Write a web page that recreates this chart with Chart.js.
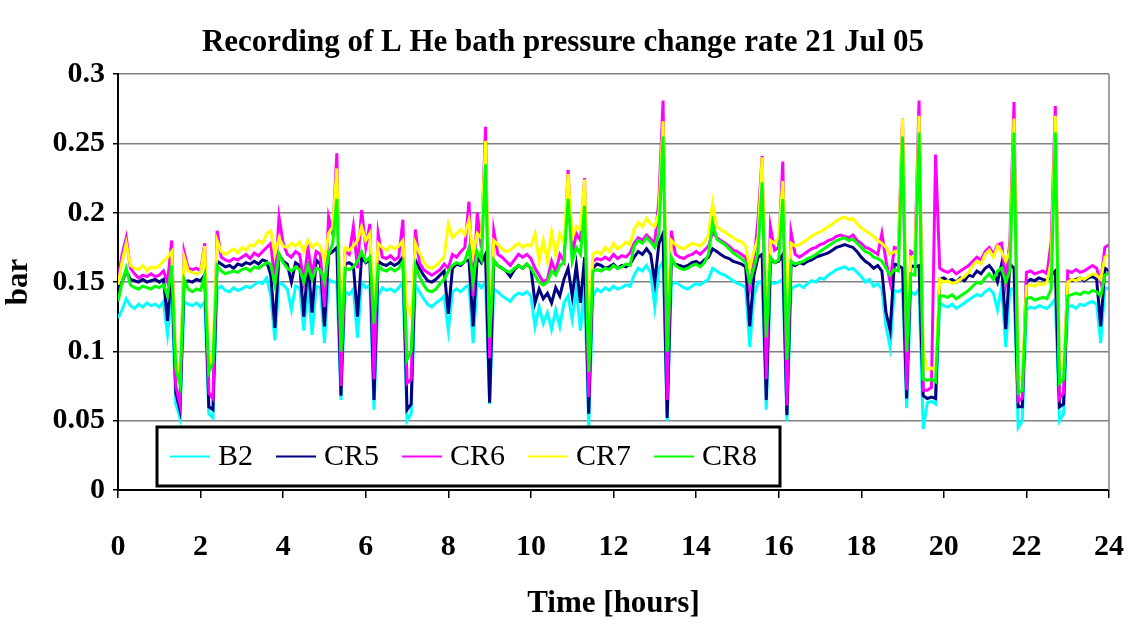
<!DOCTYPE html>
<html>
<head>
<meta charset="utf-8">
<script src="https://cdn.jsdelivr.net/npm/chart.js@4.4.1/dist/chart.umd.min.js"></script>
<style>
  html, body { margin: 0; padding: 0; background: #fff; }
  #wrap { width: 1139px; height: 633px; position: relative; }
</style>
</head>
<body>
<div id="wrap"><canvas id="chart"></canvas></div>
<script>
// Recording of L He bath pressure change rate, 21 Jul 05
// values, in mbar, one row per hour (0.0 .. 0.9 h), last value at 24 h
const SAMPLE_STEP_H = 0.1;

const b2 = [
  124,130,138,133,131,134,132,135,133,134,
  132,136,112,140,62,52,136,134,133,135,
  132,136,55,52,145,147,144,143,146,144,
  145,147,146,148,150,149,153,140,108,150,
  148,145,130,147,146,115,148,112,147,146,
  106,152,150,150,65,143,141,145,110,150,
  146,148,58,140,146,144,145,143,146,150,
  50,55,148,143,138,134,132,135,137,140,
  115,143,145,143,146,148,106,150,146,150,
  62,145,143,140,138,136,140,142,141,143,
  140,118,132,120,128,116,130,118,135,140,
  123,145,115,148,45,140,145,143,146,144,
  147,145,146,148,147,155,160,158,162,157,
  132,160,165,50,148,150,148,146,145,147,
  149,148,150,152,160,158,156,155,153,151,
  149,148,146,103,140,150,150,58,150,149,
  150,152,50,145,147,148,146,149,151,150,
  153,152,155,157,159,160,161,159,160,157,
  154,150,152,147,149,145,118,103,144,143,
  145,59,143,141,145,44,63,64,62,135,
  133,132,134,131,133,135,137,139,141,140,
  143,145,142,130,147,103,145,145,45,50,
  130,132,131,133,132,131,134,138,50,55,
  132,133,131,134,133,135,136,134,106,146,
  145
];

const cr5 = [
  145,150,158,152,151,150,152,150,151,152,
  150,152,122,160,70,58,150,151,150,152,
  151,155,60,58,165,163,161,162,160,163,
  162,164,163,165,163,166,165,155,117,170,
  165,163,150,164,162,125,165,128,166,163,
  118,170,172,175,68,163,164,162,125,168,
  164,166,65,165,163,162,164,162,164,168,
  58,62,166,160,155,151,150,152,155,158,
  127,160,163,162,165,166,118,168,164,170,
  63,165,162,160,158,154,159,162,160,163,
  160,135,145,138,142,135,146,140,152,160,
  140,162,135,168,55,160,163,162,160,161,
  163,160,162,161,163,168,172,170,174,170,
  150,178,185,52,165,163,162,161,162,164,
  165,163,166,168,174,172,170,168,167,165,
  164,163,161,118,155,168,170,65,166,164,
  165,170,54,163,162,164,163,165,166,168,
  169,170,171,173,175,176,177,176,175,172,
  168,165,163,160,162,158,128,115,163,162,
  160,66,162,161,162,68,66,67,66,152,
  153,151,152,150,153,151,155,154,158,156,
  160,162,158,150,163,116,163,160,60,60,
  150,152,151,153,152,151,155,158,60,62,
  152,151,152,153,151,153,154,152,118,160,
  158
];

const cr6 = [
  152,170,182,160,156,153,155,154,156,154,
  155,158,150,180,75,62,172,160,159,160,
  158,178,70,66,187,168,166,165,167,166,
  168,170,167,171,169,172,175,178,150,197,
  178,170,168,172,170,150,175,155,172,170,
  132,197,185,243,75,172,170,190,160,202,
  175,192,80,185,168,167,169,166,168,195,
  77,80,188,164,159,157,155,157,159,163,
  160,170,168,172,175,208,140,200,175,262,
  95,187,170,168,165,162,166,170,168,170,
  167,160,155,150,152,165,157,170,165,231,
  170,185,180,225,67,165,167,166,168,166,
  170,167,169,168,171,178,182,180,184,181,
  178,210,281,65,187,170,168,167,169,170,
  172,170,173,176,186,182,180,178,176,173,
  172,170,168,146,165,195,241,80,190,173,
  175,237,61,186,170,168,170,172,174,175,
  177,178,180,181,183,184,183,182,184,180,
  178,175,174,172,170,185,165,150,175,174,
  268,72,172,170,281,72,72,74,242,160,
  158,157,159,156,158,160,162,165,168,166,
  172,175,170,177,178,150,180,280,64,66,
  157,158,156,157,158,156,179,277,66,70,
  158,157,159,157,158,160,162,160,150,175,
  177
];

const cr7 = [
  148,165,178,162,160,159,162,158,161,160,
  162,165,168,172,95,82,168,158,157,156,
  157,176,90,100,180,172,170,172,174,171,
  175,173,177,176,180,178,185,187,170,182,
  176,175,178,176,179,172,180,175,178,176,
  165,185,190,232,110,175,173,176,180,190,
  180,185,130,178,175,173,176,174,176,180,
  132,125,178,171,165,161,160,162,165,168,
  192,182,185,188,184,195,170,185,182,252,
  120,180,177,174,172,173,176,178,175,177,
  176,185,165,180,165,186,170,185,178,228,
  182,190,188,224,106,170,172,170,175,172,
  178,174,176,179,177,188,193,190,196,192,
  190,200,266,115,180,177,175,174,176,178,
  177,176,179,184,207,190,188,186,184,182,
  180,179,176,160,172,182,240,120,180,178,
  182,223,127,178,176,177,179,181,183,185,
  186,188,190,192,194,196,197,195,196,192,
  189,187,185,183,180,178,175,170,172,171,
  268,110,168,167,270,100,87,88,86,152,
  150,151,149,150,152,154,157,162,165,163,
  170,173,168,176,172,165,172,268,80,82,
  147,148,147,149,148,150,165,270,87,88,
  150,152,151,153,152,154,156,155,152,168,
  170
];

const cr8 = [
  136,150,160,148,146,145,147,146,145,147,
  146,148,140,162,88,76,152,145,143,145,
  144,155,85,92,162,158,156,157,158,157,
  159,160,158,161,160,162,164,163,148,170,
  164,160,158,161,159,150,162,152,160,159,
  150,170,178,210,100,160,159,161,165,172,
  165,168,120,162,159,158,160,158,160,165,
  94,100,162,154,148,144,143,145,149,152,
  158,162,164,163,165,175,150,172,166,235,
  110,166,162,160,158,157,160,162,160,163,
  160,155,150,148,150,158,155,162,164,210,
  165,175,170,205,85,158,159,158,160,159,
  162,160,161,163,162,176,180,178,182,179,
  175,185,255,100,168,162,160,159,160,162,
  163,161,164,170,193,181,179,177,174,171,
  169,167,164,150,160,172,222,110,168,164,
  166,210,94,165,163,164,165,167,168,170,
  172,174,176,178,180,181,182,180,181,178,
  175,172,171,168,167,165,160,155,159,158,
  255,100,156,155,258,80,79,80,78,140,
  140,139,141,138,140,142,144,147,150,149,
  153,156,152,158,160,150,158,258,70,72,
  138,139,137,138,139,138,145,258,77,80,
  140,141,142,141,143,142,144,143,140,155,
  157
];

const seriesNames = ['B2', 'CR5', 'CR6', 'CR7', 'CR8'];
const seriesColors = ['#00FFFF', '#000080', '#FF00FF', '#FFFF00', '#00FF00'];
const seriesValues = [b2, cr5, cr6, cr7, cr8];

const SERIF = '"Liberation Serif", "Times New Roman", serif';

const hours = b2.map((_, i) => +(i * SAMPLE_STEP_H).toFixed(1));

// Excel draws later series on top, so CR8 gets the lowest order
const datasets = seriesNames.map((name, i) => ({
    label: name,
    data: seriesValues[i].map((v, j) => ({ x: hours[j], y: v / 1000 })),
    borderColor: seriesColors[i],
    backgroundColor: seriesColors[i],
    borderWidth: 3,
    pointRadius: 0,
    tension: 0,
    order: seriesNames.length - i
}));

// right edge of the plot frame and the boxed legend inside the plot
const frameAndLegend = {
    id: 'frameAndLegend',
    afterDraw(chart) {
        const { ctx, chartArea: a } = chart;
        ctx.save();
        ctx.strokeStyle = '#808080';
        ctx.lineWidth = 1.5;
        ctx.beginPath();
        ctx.moveTo(a.right, a.top);
        ctx.lineTo(a.right, a.bottom);
        ctx.stroke();

        const bx = a.left + 39, by = a.bottom - 63, bw = 623, bh = 59;
        ctx.fillStyle = '#fff';
        ctx.fillRect(bx, by, bw, bh);
        ctx.strokeStyle = '#000';
        ctx.lineWidth = 3;
        ctx.strokeRect(bx, by, bw, bh);

        ctx.font = '30px ' + SERIF;
        ctx.textBaseline = 'middle';
        ctx.fillStyle = '#000';
        const cy = by + bh / 2;
        let x = bx + 13;
        seriesNames.forEach((name, i) => {
            ctx.strokeStyle = seriesColors[i];
            ctx.lineWidth = 2;
            ctx.beginPath();
            ctx.moveTo(x, cy);
            ctx.lineTo(x + 40, cy);
            ctx.stroke();
            ctx.fillText(name, x + 48, cy + 1);
            x += 48 + ctx.measureText(name).width + 23;
        });
        ctx.restore();
    }
};

new Chart(document.getElementById('chart'), {
    type: 'line',
    data: { datasets },
    options: {
        responsive: true,
        maintainAspectRatio: false,
        animation: false,
        layout: { padding: { left: 0, right: 13, top: 0, bottom: 0 } },
        plugins: {
            legend: { display: false },
            tooltip: { enabled: false },
            title: {
                display: true,
                text: 'Recording of L He bath pressure change rate 21 Jul 05',
                color: '#000',
                font: { family: SERIF, size: 31, weight: 'bold' },
                padding: { top: 24, bottom: 13 }
            }
        },
        scales: {
            x: {
                type: 'linear',
                min: 0,
                max: 24,
                afterFit: s => {
                    s.height = 143;
                    s.paddingLeft = 0;
                    s.paddingRight = 0;
                },
                ticks: {
                    stepSize: 2,
                    color: '#000',
                    padding: 31,
                    maxRotation: 0,
                    font: { family: SERIF, size: 30, weight: 'bold' }
                },
                grid: {
                    drawOnChartArea: false,
                    drawTicks: true,
                    tickLength: 8,
                    color: '#000',
                    lineWidth: 1.5
                },
                border: { display: true, color: '#000', width: 2 },
                title: {
                    display: true,
                    text: 'Time [hours]',
                    color: '#000',
                    font: { family: SERIF, size: 31, weight: 'bold' },
                    padding: { top: 10, bottom: 10 }
                }
            },
            y: {
                min: 0,
                max: 0.3,
                afterFit: s => { s.width = 118; },
                ticks: {
                    stepSize: 0.05,
                    color: '#000',
                    padding: 8,
                    font: { family: SERIF, size: 30, weight: 'bold' },
                    callback: v => String(+v.toFixed(2))
                },
                grid: {
                    color: '#808080',
                    lineWidth: 1.5,
                    tickLength: 5,
                    tickColor: '#000'
                },
                border: { display: true, color: '#000', width: 2 },
                title: {
                    display: true,
                    text: 'bar',
                    color: '#000',
                    font: { family: SERIF, size: 31, weight: 'bold' },
                    padding: { top: 0, bottom: 0 }
                }
            },
            // empty strip right of the plot, keeps room for the last x label
            spacer: {
                type: 'linear',
                position: 'right',
                display: true,
                afterFit: s => { s.width = 17; },
                ticks: { display: false },
                grid: { display: false, drawTicks: false },
                border: { display: false }
            }
        }
    },
    plugins: [frameAndLegend]
});
</script>
</body>
</html>
